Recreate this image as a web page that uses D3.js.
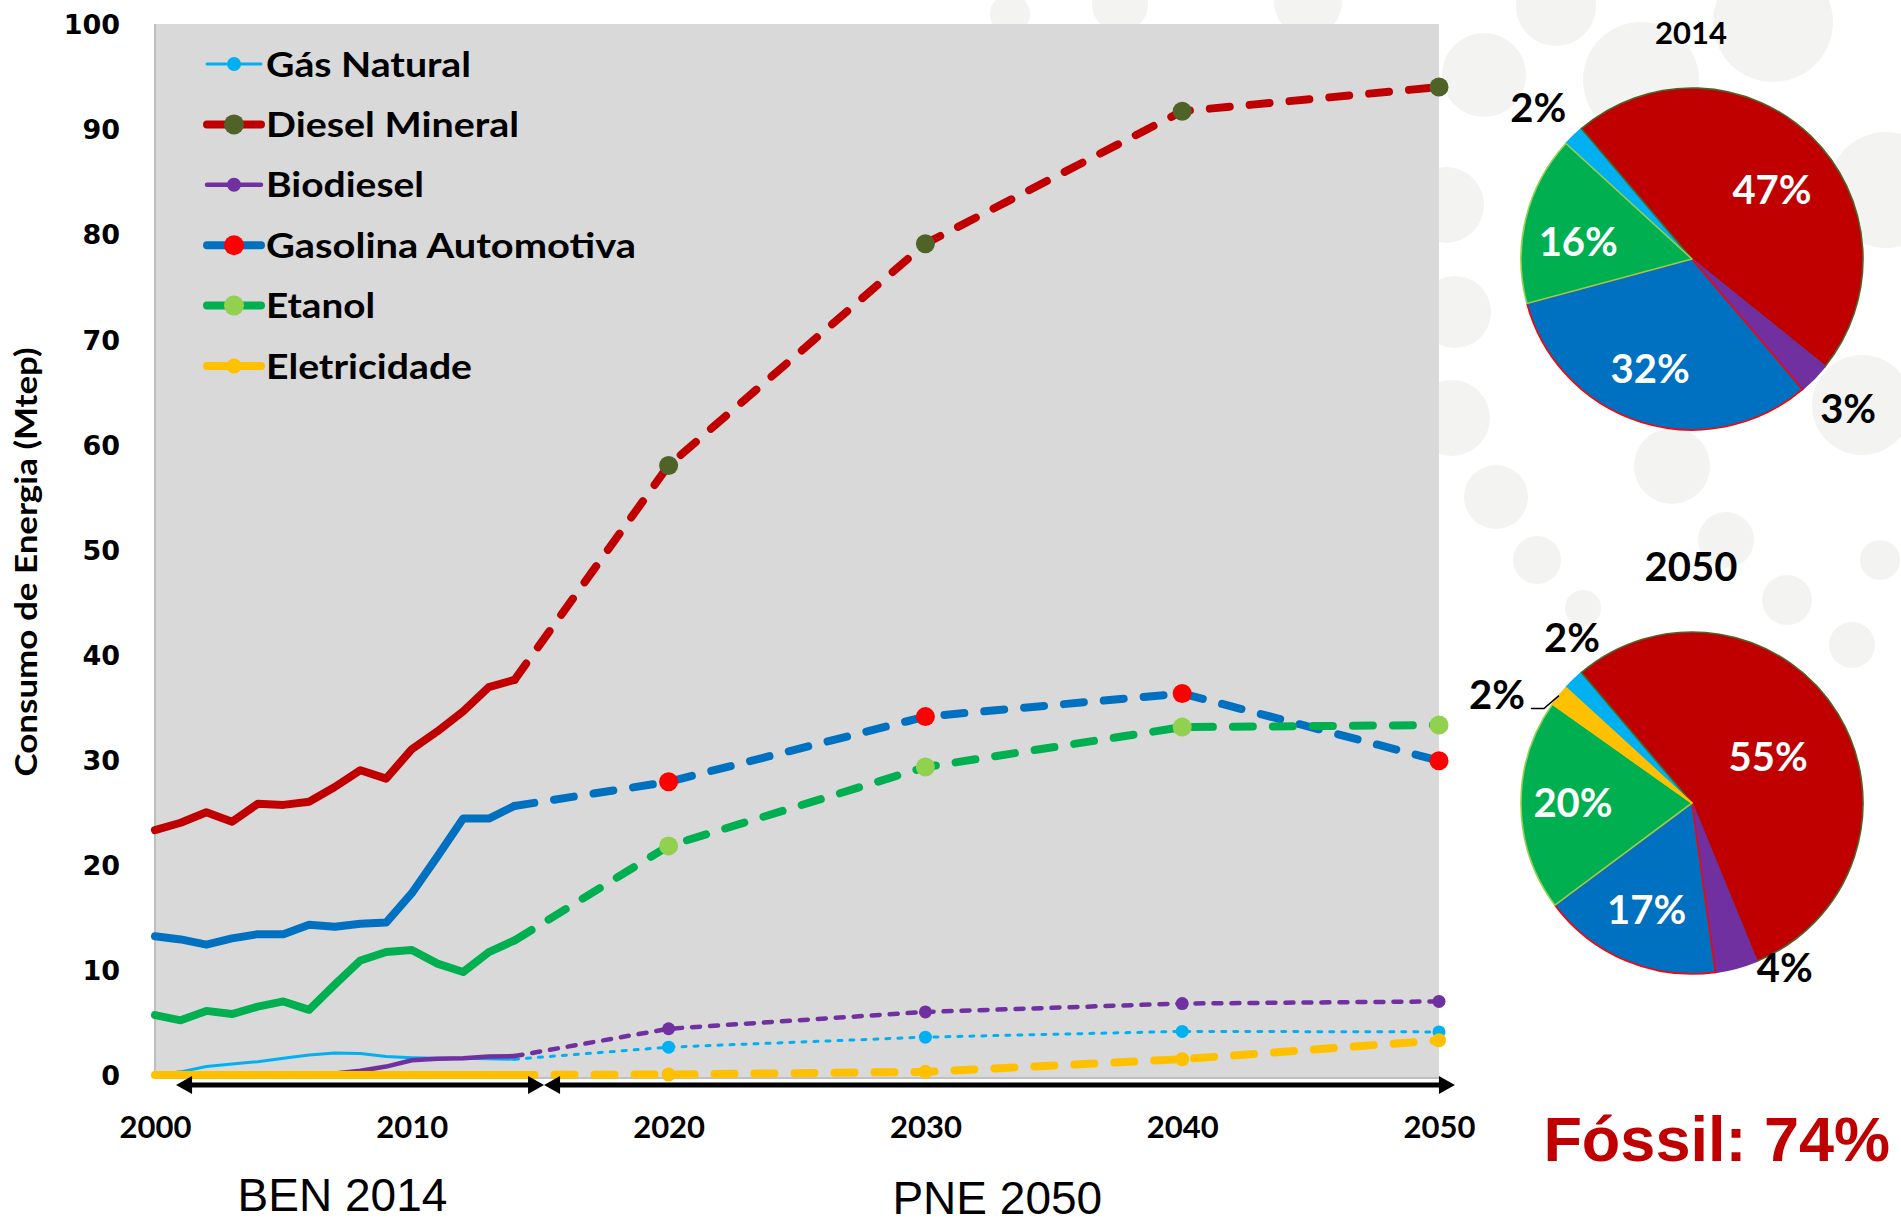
<!DOCTYPE html>
<html><head><meta charset="utf-8">
<script src="https://cdn.jsdelivr.net/npm/d3@7"></script>
<style>body{margin:0;background:#fff}</style>
</head><body><svg id="c" width="1901" height="1225"></svg>
<script>
// ---------------- DATA ----------------
const seriesNames = ["Gás Natural", "Diesel Mineral", "Biodiesel", "Gasolina Automotiva", "Etanol", "Eletricidade"];
const histYears = [2000,2001,2002,2003,2004,2005,2006,2007,2008,2009,2010,2011,2012,2013,2014];
const gasHist    = [0.0,0.3,0.8,1.05,1.27,1.6,1.9,2.1,2.05,1.75,1.65,1.6,1.6,1.55,1.5];
const dieselHist = [23.3,24.0,25.0,24.1,25.8,25.7,26.0,27.4,29.0,28.2,31.0,32.7,34.6,36.9,37.6];
const bioHist    = [0,0,0,0,0,0,0,0.15,0.4,0.8,1.4,1.55,1.6,1.75,1.8];
const gasolHist  = [13.2,12.9,12.4,13.0,13.4,13.4,14.3,14.1,14.4,14.5,17.3,20.8,24.4,24.4,25.6];
const etanolHist = [5.7,5.2,6.1,5.8,6.5,7.0,6.2,8.6,10.9,11.7,11.9,10.6,9.8,11.7,12.8];
const eletHist   = [0,0,0,0,0,0,0,0,0,0,0,0,0,0,0];

const projYears  = [2014,2020,2030,2040,2050];
const gasProj    = [1.5,2.65,3.6,4.15,4.1];
const dieselProj = [37.6,58.0,79.1,91.7,94.0];
const bioProj    = [1.8,4.4,6.0,6.8,7.0];
const gasolProj  = [25.6,27.9,34.1,36.3,29.9];
const etanolProj = [12.8,21.8,29.3,33.1,33.3];
const eletProj   = [0,0.05,0.3,1.5,3.3];

const yTicks = [0,10,20,30,40,50,60,70,80,90,100];
const xTicks = [2000,2010,2020,2030,2040,2050];

const pieShares2014 = [2,47,3,32,16,0];
const pieShares2050 = [2,55,4,17,20,2];
const pieTitles = ["2014","2050"];
const periodLabels = ["BEN 2014","PNE 2050"];
const periodFrom = [2000.82, 2015.15];
const periodTo   = [2015.15, 2050.62];
const periodLabelAt = [2007.3, 2032.8];
const fossilText = "Fóssil: 74%";

// ---------------- STYLE ----------------
const lineColors   = ["#00B0F0","#C00000","#7030A0","#0070C0","#00B050","#FFC000"];
const markerColors = ["#00B0F0","#4F6228","#7030A0","#FF0000","#92D050","#FFC000"];
const lineWidths   = [3,8,4.5,8,8,8];
const markerR      = [6.5,9.5,6.5,9.5,9.5,7];
const dashes       = ["4,8","20,20","8,10","20,20","20,20","20,20"];
const legendLens   = [205,253,158,370,109,206];

const hist = [gasHist,dieselHist,bioHist,gasolHist,etanolHist,eletHist];
const proj = [gasProj,dieselProj,bioProj,gasolProj,etanolProj,eletProj];

const svg = d3.select("#c");

// decorative background bubbles
const bubbles = [[1120,4,28],[1308,2,34],[1010,14,20],[1556,6,40],[1773,22,60],[1484,75,42],[1641,80,58],
 [1886,190,58],[1446,205,38],[1455,312,36],[1862,405,50],[1452,418,38],[1672,466,38],[1496,497,32],
 [1537,560,24],[1583,608,18],[1726,540,28],[1787,600,25],[1852,645,23],[1880,560,20]];
svg.append("g").selectAll("circle").data(bubbles).join("circle")
  .attr("cx",d=>d[0]).attr("cy",d=>d[1]).attr("r",d=>d[2]).attr("fill","#F3F3F1");

const x = d3.scaleLinear().domain([2000,2050]).range([155,1439]);
const y = d3.scaleLinear().domain([0,100]).range([1075,24]);
const plotBottom = 1078;

// plot area
svg.append("rect").attr("x",x(2000)).attr("y",y(100)).attr("width",x(2050)-x(2000))
  .attr("height",plotBottom-y(100)).attr("fill","#D9D9D9");
svg.append("line").attr("x1",x(2000)).attr("x2",x(2000)).attr("y1",y(100)).attr("y2",plotBottom)
  .attr("stroke","#BFBFBF").attr("stroke-width",2);
svg.append("line").attr("x1",x(2000)).attr("x2",x(2050)).attr("y1",plotBottom).attr("y2",plotBottom)
  .attr("stroke","#BFBFBF").attr("stroke-width",2);

// axes
const yAxis = d3.axisLeft(y).tickValues(yTicks).tickSize(0).tickPadding(35);
const gy = svg.append("g").attr("transform",`translate(${x(2000)},0)`).call(yAxis);
gy.select(".domain").remove();
gy.selectAll("text").attr("font-family","DejaVu Sans").attr("font-weight","bold")
  .attr("font-size",27).attr("fill","#000").attr("dy","0.36em");

const xAxis = d3.axisBottom(x).tickValues(xTicks).tickFormat(d3.format("d")).tickSize(0).tickPadding(38);
const gx = svg.append("g").attr("transform",`translate(0,${plotBottom})`).call(xAxis);
gx.select(".domain").remove();
gx.selectAll("text").attr("font-family","Lato").attr("font-weight","bold")
  .attr("font-size",31).attr("fill","#000");

// y axis title
svg.append("text").attr("transform","translate(37,562) rotate(-90)")
  .attr("text-anchor","middle").attr("font-family","Lato").attr("font-weight","bold")
  .attr("font-size",30).attr("textLength",429).attr("lengthAdjust","spacingAndGlyphs")
  .text("Consumo de Energia (Mtep)");

// series
const line = d3.line().x(d=>x(d[0])).y(d=>y(d[1]));
seriesNames.forEach((name,i)=>{
  const g = svg.append("g");
  const hd = histYears.map((yr,k)=>[yr,hist[i][k]]);
  const pd = projYears.map((yr,k)=>[yr,proj[i][k]]);
  g.append("path").attr("d",line(hd)).attr("fill","none").attr("stroke",lineColors[i])
    .attr("stroke-width",lineWidths[i]).attr("stroke-linejoin","round").attr("stroke-linecap","round");
  g.append("path").attr("d",line(pd)).attr("fill","none").attr("stroke",lineColors[i])
    .attr("stroke-width",lineWidths[i]).attr("stroke-dasharray",dashes[i])
    .attr("stroke-linejoin","round").attr("stroke-linecap","round");
  g.selectAll("circle").data(pd.slice(1)).join("circle")
    .attr("cx",d=>x(d[0])).attr("cy",d=>y(d[1])).attr("r",markerR[i]).attr("fill",markerColors[i]);
});

// legend
const lg = svg.append("g");
seriesNames.forEach((name,i)=>{
  const ly = 64 + i*60.4;
  lg.append("line").attr("x1",207).attr("x2",261).attr("y1",ly).attr("y2",ly)
    .attr("stroke",lineColors[i]).attr("stroke-width",lineWidths[i]).attr("stroke-linecap","round");
  lg.append("circle").attr("cx",234).attr("cy",ly).attr("r",markerR[i]+0.5).attr("fill",markerColors[i]);
  lg.append("text").attr("x",266).attr("y",ly).attr("dy","0.36em")
    .attr("font-family","Lato").attr("font-weight","bold").attr("font-size",35)
    .attr("textLength",legendLens[i]).attr("lengthAdjust","spacingAndGlyphs").text(name);
});

// period arrows
const ay = 1085;
periodLabels.forEach((lab,i)=>{
  const x1 = x(periodFrom[i]), x2 = x(periodTo[i]), h = 16, w = 9;
  svg.append("line").attr("x1",x1+h-2).attr("x2",x2-h+2).attr("y1",ay).attr("y2",ay)
    .attr("stroke","#000").attr("stroke-width",5);
  svg.append("path").attr("d",`M${x1},${ay}L${x1+h},${ay-w}L${x1+h},${ay+w}Z`).attr("fill","#000");
  svg.append("path").attr("d",`M${x2},${ay}L${x2-h},${ay-w}L${x2-h},${ay+w}Z`).attr("fill","#000");
  svg.append("text").attr("x",x(periodLabelAt[i])).attr("y",1211 + i*3).attr("text-anchor","middle")
    .attr("font-family","Liberation Sans").attr("font-size",46).attr("fill","#000").text(lab);
});

// pies
const pieCenters = [[1692,259],[1692,803]];
const pieR = 171;
const startA = -47.5*Math.PI/180;
const pie = d3.pie().sort(null).value(d=>d).startAngle(startA).endAngle(startA+2*Math.PI);
const arc = d3.arc().innerRadius(0).outerRadius(pieR);
const labelPolar = [
  [[314.6,216],[49,106],[133.7,216],[201,117],[278.5,115],null],
  [[324,204],[58.8,89],[150.6,189],[203,116],[270,119],[299,223]]
];
[pieShares2014,pieShares2050].forEach((shares,p)=>{
  const [cx,cy] = pieCenters[p];
  const g = svg.append("g").attr("transform",`translate(${cx},${cy})`);
  const arcs = pie(shares);
  g.selectAll("path").data(arcs.filter(a=>a.value>0)).join("path")
    .attr("d",arc).attr("fill",d=>lineColors[d.index])
    .attr("stroke",d=>markerColors[d.index]).attr("stroke-width",1.6).attr("stroke-linejoin","round");
  arcs.forEach((a,i)=>{
    const lp = labelPolar[p][i];
    if(!lp || a.value<=0) return;
    const ang = lp[0]*Math.PI/180;
    const lx = lp[1]*Math.sin(ang), ly = -lp[1]*Math.cos(ang);
    const inside = lp[1] < pieR;
    g.append("text").attr("x",lx).attr("y",ly).attr("dy","0.36em").attr("text-anchor","middle")
      .attr("font-family","Lato").attr("font-weight","bold").attr("font-size",40)
      .attr("fill",inside?"#fff":"#000").text(shares[i]+"%");
    if(p===1 && i===5){
      const mid = (a.startAngle+a.endAngle)/2;
      const ex = pieR*Math.sin(mid), ey = -pieR*Math.cos(mid);
      g.append("path").attr("d",`M${ex},${ey}L${ex-15},${ey+13}L${ex-28},${ey+13}`)
        .attr("fill","none").attr("stroke","#000").attr("stroke-width",1.5);
    }
  });
});
svg.append("text").attr("x",1691).attr("y",33).attr("dy","0.36em").attr("text-anchor","middle")
  .attr("font-family","Lato").attr("font-weight","bold").attr("font-size",31).text(pieTitles[0]);
svg.append("text").attr("x",1691).attr("y",567).attr("dy","0.36em").attr("text-anchor","middle")
  .attr("font-family","Lato").attr("font-weight","bold").attr("font-size",40).text(pieTitles[1]);

// fossil share
svg.append("text").attr("x",1890).attr("y",1161).attr("text-anchor","end")
  .attr("font-family","Liberation Sans").attr("font-weight","bold").attr("font-size",63)
  .attr("fill","#C00000").text(fossilText);
</script></body></html>
